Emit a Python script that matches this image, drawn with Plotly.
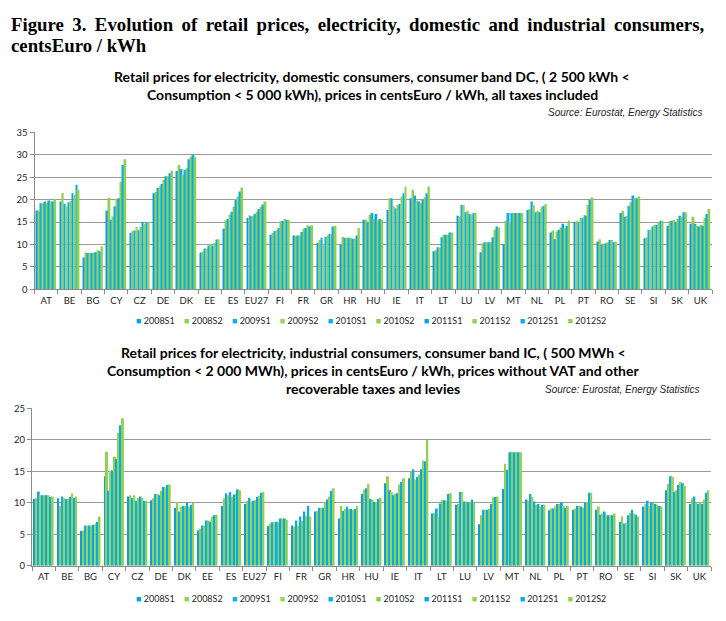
import plotly.graph_objects as go

countries = ["AT", "BE", "BG", "CY", "CZ", "DE", "DK", "EE", "ES", "EU27", "FI", "FR", "GR", "HR", "HU",
             "IE", "IT", "LT", "LU", "LV", "MT", "NL", "PL", "PT", "RO", "SE", "SI", "SK", "UK"]
series = ["2008S1", "2008S2", "2009S1", "2009S2", "2010S1", "2010S2", "2011S1", "2011S2", "2012S1", "2012S2"]
series_colors = ["#0E9EE0", "#92D050", "#16A9EA", "#9BD35C", "#00B0F0", "#8DCE4A",
                 "#0AA4E8", "#95D154", "#03AEEF", "#93D04F"]

# Domestic consumers (band DC), centsEuro / kWh, per country, 2008S1 .. 2012S2
dc_AT = [17.6, 17.6, 19.2, 19.2, 19.6, 19.3, 19.8, 19.6, 19.6, 20.2]
dc_BE = [19.6, 21.5, 19.1, 18.5, 19.4, 19.7, 21.4, 21.1, 23.3, 22.2]
dc_BG = [7.1, 8.2, 8.1, 8.1, 8.1, 8.2, 8.3, 8.7, 8.5, 9.6]
dc_CY = [17.6, 20.4, 15.5, 16.3, 18.5, 20.2, 20.3, 24.0, 27.7, 29.0]
dc_CZ = [12.6, 13.0, 13.1, 13.9, 13.2, 13.9, 15.0, 14.6, 15.0, 15.0]
dc_DE = [21.4, 21.7, 22.6, 22.9, 23.5, 24.4, 25.2, 25.2, 25.9, 26.5]
dc_DK = [26.4, 27.7, 26.8, 25.5, 26.6, 27.0, 29.0, 29.5, 30.0, 29.5]
dc_EE = [8.2, 8.4, 9.1, 9.1, 9.8, 10.0, 9.8, 10.4, 11.1, 11.2]
dc_ES = [13.5, 15.4, 15.7, 16.7, 17.3, 18.4, 19.9, 20.7, 21.8, 22.7]
dc_EU27 = [15.9, 16.5, 16.3, 16.3, 16.8, 17.3, 17.9, 18.4, 18.9, 19.6]
dc_FI = [12.2, 12.6, 13.0, 13.2, 13.7, 15.2, 15.3, 15.7, 15.5, 15.5]
dc_FR = [12.0, 11.9, 12.0, 12.0, 12.8, 13.5, 13.7, 14.3, 14.0, 14.3]
dc_GR = [10.4, 11.0, 11.5, 10.2, 11.7, 12.0, 12.4, 12.2, 14.0, 14.2]
dc_HR = [10.0, 11.7, 11.5, 11.5, 11.5, 11.5, 11.3, 11.3, 12.0, 13.7]
dc_HU = [15.5, 15.5, 15.0, 16.6, 17.0, 15.7, 16.8, 15.5, 15.7, 15.5]
dc_IE = [17.7, 20.3, 20.3, 18.6, 18.1, 18.8, 19.0, 20.7, 21.4, 22.9]
dc_IT = [20.3, 22.2, 20.9, 19.8, 19.6, 19.2, 20.0, 20.5, 21.4, 22.9]
dc_LT = [8.5, 8.7, 9.4, 9.2, 11.6, 12.2, 12.2, 12.2, 12.7, 12.7]
dc_LU = [16.4, 16.2, 18.8, 18.8, 17.2, 17.5, 16.8, 16.6, 17.0, 17.0]
dc_LV = [8.3, 10.3, 10.5, 10.5, 10.5, 10.5, 11.6, 13.3, 14.0, 13.8]
dc_MT = [10.1, 15.3, 17.0, 15.1, 17.0, 17.0, 17.0, 17.0, 17.0, 17.0]
dc_NL = [17.7, 17.9, 19.6, 18.8, 17.2, 17.5, 17.2, 18.3, 18.6, 19.0]
dc_PL = [12.7, 13.1, 11.2, 12.9, 13.3, 13.8, 14.6, 13.6, 14.2, 15.3]
dc_PT = [15.0, 15.3, 15.0, 15.9, 15.9, 16.6, 16.4, 18.8, 19.9, 20.5]
dc_RO = [10.7, 11.2, 9.9, 9.9, 10.3, 10.5, 11.0, 11.0, 10.5, 10.7]
dc_SE = [17.0, 17.5, 16.2, 16.4, 18.6, 19.4, 20.9, 20.3, 20.3, 20.7]
dc_SI = [11.4, 11.6, 13.3, 13.3, 14.0, 14.4, 14.4, 14.9, 15.3, 15.3]
dc_SK = [14.2, 15.3, 15.3, 15.5, 15.1, 15.7, 16.4, 16.2, 17.2, 17.2]
dc_UK = [14.6, 16.2, 14.6, 14.2, 14.0, 14.4, 14.2, 15.9, 16.8, 17.9]

# Industrial consumers (band IC), centsEuro / kWh, per country, 2008S1 .. 2012S2
ic_AT = [10.6, 10.7, 11.8, 11.2, 11.2, 11.2, 11.2, 11.2, 10.9, 11.0]
ic_BE = [10.7, 9.5, 11.0, 10.7, 10.6, 10.6, 10.9, 11.5, 10.8, 11.0]
ic_BG = [5.5, 5.6, 6.4, 6.4, 6.4, 6.4, 6.5, 6.7, 7.0, 7.8]
ic_CY = [14.2, 18.1, 11.9, 15.1, 15.1, 17.3, 16.9, 21.1, 22.3, 23.4]
ic_CZ = [11.0, 11.2, 10.7, 11.2, 10.3, 10.8, 11.0, 10.8, 10.3, 10.3]
ic_DE = [10.4, 10.7, 11.4, 11.4, 11.2, 11.9, 12.5, 12.4, 12.8, 12.9]
ic_DK = [9.2, 10.1, 8.6, 9.4, 9.5, 9.5, 10.0, 9.4, 9.7, 10.0]
ic_EE = [5.6, 5.9, 6.4, 6.4, 7.2, 7.2, 7.0, 7.8, 8.0, 8.1]
ic_ES = [9.5, 10.7, 11.5, 11.2, 11.7, 10.9, 11.3, 11.5, 12.1, 12.0]
ic_EU27 = [9.8, 10.3, 10.8, 10.2, 10.3, 10.4, 10.9, 11.1, 11.6, 11.7]
ic_FI = [6.3, 6.7, 6.9, 6.9, 7.0, 6.9, 7.5, 7.5, 7.5, 7.3]
ic_FR = [6.4, 6.2, 7.2, 6.4, 7.8, 7.1, 8.6, 7.9, 9.5, 7.8]
ic_GR = [8.6, 8.7, 9.2, 9.2, 9.2, 10.1, 10.5, 11.0, 11.9, 12.3]
ic_HR = [7.5, 9.5, 8.7, 9.0, 9.4, 9.0, 9.0, 8.9, 9.0, 9.5]
ic_HU = [11.4, 12.1, 12.3, 13.0, 10.6, 10.5, 10.1, 10.1, 10.6, 10.8]
ic_IE = [13.1, 14.2, 12.0, 11.7, 11.2, 11.4, 11.5, 12.9, 13.3, 13.9]
ic_IT = [13.9, 15.0, 15.3, 13.7, 14.1, 14.5, 15.3, 16.7, 16.6, 20.0]
ic_LT = [8.3, 8.4, 9.1, 7.8, 9.9, 10.4, 10.4, 10.3, 11.4, 11.5]
ic_LU = [9.7, 9.8, 11.7, 11.7, 10.2, 10.2, 10.0, 10.0, 10.5, 10.0]
ic_LV = [6.6, 8.0, 8.9, 8.9, 8.9, 9.0, 9.8, 10.9, 10.9, 11.0]
ic_MT = [12.2, 16.2, 15.2, 18.0, 18.0, 18.0, 18.0, 18.0, 18.0, 18.0]
ic_NL = [10.5, 10.3, 11.4, 10.9, 10.2, 9.7, 9.8, 9.4, 9.7, 9.7]
ic_PL = [8.8, 9.1, 9.1, 9.4, 9.8, 9.8, 10.0, 9.5, 9.2, 9.5]
ic_PT = [8.9, 9.1, 9.5, 9.5, 9.4, 9.2, 10.0, 10.1, 11.6, 11.6]
ic_RO = [8.9, 9.4, 8.1, 8.3, 8.6, 8.0, 8.0, 8.0, 8.0, 8.3]
ic_SE = [7.0, 7.8, 6.7, 6.8, 8.0, 8.4, 8.9, 8.3, 8.1, 7.8]
ic_SI = [9.4, 9.8, 10.3, 9.5, 10.0, 10.0, 9.8, 9.7, 9.5, 9.4]
ic_SK = [12.0, 13.0, 14.2, 14.1, 11.7, 12.0, 12.8, 13.3, 13.1, 12.7]
ic_UK = [9.8, 10.7, 11.0, 10.0, 9.8, 10.0, 9.8, 10.5, 11.6, 12.0]

g = globals()
domestic = [g["dc_" + c] for c in countries]
industrial = [g["ic_" + c] for c in countries]

# The page body has an 8px default margin, so the figure is drawn 16px smaller
OFF = 8
W, H = 726 - 2 * OFF, 621 - 2 * OFF


def py(px):
    return 1 - (px - OFF) / H


def px_x(px):
    return (px - OFF) / W


fig = go.Figure()
for i, s in enumerate(series):
    fig.add_trace(go.Bar(x=countries, y=[row[i] for row in domestic], name=s,
                         marker=dict(color=series_colors[i], line=dict(width=0)),
                         xaxis="x", yaxis="y", showlegend=False))
for i, s in enumerate(series):
    fig.add_trace(go.Bar(x=countries, y=[row[i] for row in industrial], name=s,
                         marker=dict(color=series_colors[i], line=dict(width=0)),
                         xaxis="x2", yaxis="y2", showlegend=False))

tick_font = dict(family="Lato, Open Sans, sans-serif", size=9.5, color="#262626")
grid_col = "#9a9a9a"

xcommon = dict(type="category", tickson="boundaries", ticks="outside", ticklen=4,
               tickcolor="#8c8c8c", showline=True, linecolor="#8c8c8c", linewidth=1,
               tickfont=tick_font, tickangle=0, ticklabelstandoff=2,
               showgrid=False, fixedrange=True)
ycommon = dict(showline=True, linecolor="#8c8c8c", linewidth=1, ticks="outside", ticklen=4,
               tickcolor="#8c8c8c", showgrid=True, gridcolor=grid_col, gridwidth=1,
               tickfont=tick_font, dtick=5, zeroline=False, fixedrange=True)

fig.update_layout(
    width=W, height=H, autosize=False,
    margin=dict(l=0, r=0, t=0, b=0),
    paper_bgcolor="white", plot_bgcolor="white",
    barmode="group", bargap=0.15, bargroupgap=0,
    xaxis=dict(domain=[px_x(34.5), px_x(712)], anchor="y", **xcommon),
    yaxis=dict(domain=[py(288.5), py(128.5)], range=[0, 35], anchor="x", **ycommon),
    xaxis2=dict(domain=[px_x(32), px_x(711)], anchor="y2", **xcommon),
    yaxis2=dict(domain=[py(570), py(409.5)], range=[0, 25], anchor="x2", **ycommon),
)

title_font = dict(family="Liberation Serif, Times New Roman, serif", size=18.8, color="black")
sub_font = dict(family="Lato, Open Sans, sans-serif", size=14, color="black")
src_font = dict(family="Liberation Sans, Arial, sans-serif", size=10, color="#262626")
leg_font = dict(family="Lato, Open Sans, sans-serif", size=9, color="#262626")

title_line1 = "Figure 3. Evolution of retail prices, electricity, domestic and industrial consumers,"
title_line1 = title_line1.replace(" ", " \u2009")

annotations = [
    dict(text="<b>" + title_line1 + "</b>",
         x=px_x(9), y=py(18.5), xanchor="left", yanchor="middle", font=title_font),
    dict(text="<b>centsEuro / kWh</b>", x=px_x(9), y=py(40.5), xanchor="left", yanchor="middle", font=title_font),
    dict(text="<b>Retail prices for electricity, domestic consumers, consumer band DC, ( 2 500 kWh &lt;</b>",
         x=px_x(372), y=py(72), xanchor="center", yanchor="middle", font=sub_font),
    dict(text="<b>Consumption &lt; 5 000 kWh), prices in centsEuro / kWh, all taxes included</b>",
         x=px_x(372), y=py(90), xanchor="center", yanchor="middle", font=sub_font),
    dict(text="<i>Source: Eurostat, Energy Statistics</i>", x=px_x(705), y=py(108),
         xanchor="right", yanchor="middle", font=src_font),
    dict(text="<b>Retail prices for electricity, industrial consumers, consumer band IC, ( 500 MWh &lt;</b>",
         x=px_x(373), y=py(353), xanchor="center", yanchor="middle", font=sub_font),
    dict(text="<b>Consumption &lt; 2 000 MWh), prices in centsEuro / kWh, prices without VAT and other</b>",
         x=px_x(373), y=py(371), xanchor="center", yanchor="middle", font=sub_font),
    dict(text="<b>recoverable taxes and levies</b>",
         x=px_x(373), y=py(389), xanchor="center", yanchor="middle", font=sub_font),
    dict(text="<i>Source: Eurostat, Energy Statistics</i>", x=px_x(702), y=py(390),
         xanchor="right", yanchor="middle", font=src_font),
]

legend_text = "\u00a0\u00a0\u00a0\u00a0".join(
    f"<span style='color:{c}'>■</span>\u00a0{s}" for s, c in zip(series, series_colors))
for ly in (320, 603):
    annotations.append(dict(text=legend_text, x=px_x(371), y=py(ly), xanchor="center",
                            yanchor="middle", font=leg_font))

for a in annotations:
    a.update(xref="paper", yref="paper", showarrow=False)
fig.update_layout(annotations=annotations)

fig.write_html("out.html")
